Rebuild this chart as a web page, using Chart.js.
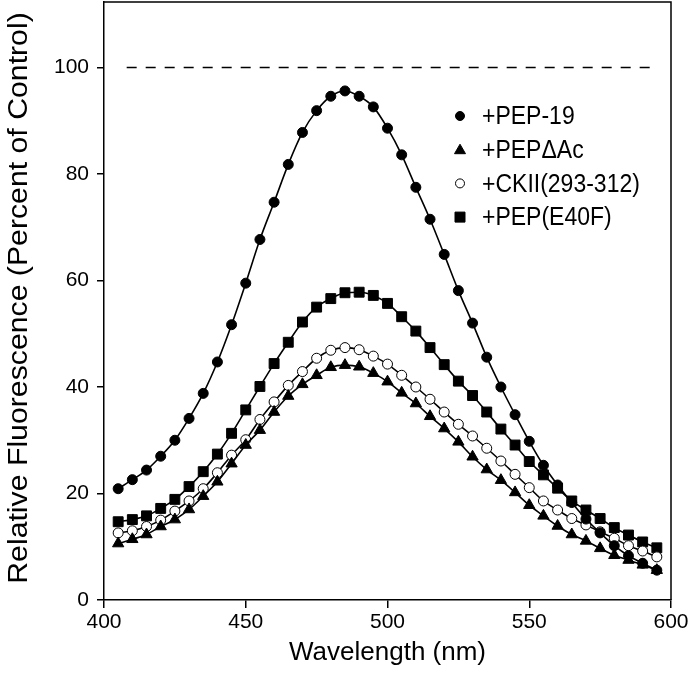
<!DOCTYPE html>
<html>
<head>
<meta charset="utf-8">
<script src="https://cdn.jsdelivr.net/npm/chart.js@4/dist/chart.umd.min.js"></script>
<style>
  html, body { margin: 0; padding: 0; background: #fff; overflow: hidden; }
  #wrap { width: 693px; height: 682px; overflow: hidden; }
  #chart { display: block; margin-top: -6px; }
</style>
</head>
<body>
<div id="wrap"><canvas id="chart" width="693" height="688"></canvas></div>
<script>
// wavelengths (nm)
const wavelengths = [405, 410, 415, 420, 425, 430, 435, 440, 445, 450,
  455, 460, 465, 470, 475, 480, 485, 490, 495, 500,
  505, 510, 515, 520, 525, 530, 535, 540, 545, 550,
  555, 560, 565, 570, 575, 580, 585, 590, 595];

// relative fluorescence, % of control
const pep19 = [20.9, 22.6, 24.4, 27.0, 30.0, 34.1, 38.8, 44.7, 51.7, 59.5,
  67.7, 74.7, 81.8, 87.8, 91.9, 94.6, 95.6, 94.6, 92.6, 88.6,
  83.6, 77.5, 71.5, 64.9, 58.1, 52.0, 45.6, 40.0, 34.8, 29.8,
  25.3, 21.6, 18.3, 15.2, 12.6, 10.2, 8.3, 6.9, 5.6];
const pepDAc = [10.6, 11.4, 12.3, 13.8, 15.1, 17.0, 19.5, 22.2, 25.6, 29.1,
  31.9, 35.3, 38.3, 40.5, 42.2, 43.7, 44.1, 43.8, 42.6, 41.0,
  38.9, 36.9, 34.5, 32.2, 29.7, 26.9, 24.5, 22.5, 20.2, 17.8,
  15.8, 13.9, 12.3, 11.1, 9.7, 8.4, 7.5, 6.6, 5.6];
const ckii = [12.6, 13.0, 13.8, 15.0, 16.7, 18.6, 20.9, 23.9, 27.2, 30.1,
  33.9, 37.2, 40.3, 42.9, 45.4, 46.9, 47.4, 47.0, 45.8, 44.3,
  42.2, 40.0, 37.7, 35.3, 33.0, 30.8, 28.5, 26.1, 23.6, 21.1,
  18.6, 16.9, 15.3, 14.1, 12.8, 11.6, 10.2, 9.2, 8.1];
const pepE40F = [14.7, 15.1, 15.8, 17.2, 18.9, 21.3, 24.1, 27.4, 31.3, 35.7,
  40.1, 44.4, 48.4, 52.2, 55.0, 56.6, 57.7, 57.8, 57.2, 55.7,
  53.2, 50.5, 47.4, 44.2, 41.1, 38.4, 35.3, 32.1, 29.1, 26.0,
  23.5, 21.0, 18.6, 16.9, 15.3, 13.6, 12.2, 10.9, 9.8];

// control level (dashed line)
const controlX = [408, 594];
const controlY = [100, 100];

const seriesNames = ['+PEP-19', '+PEP\u0394Ac', '+CKII(293-312)', '+PEP(E40F)'];
const xTicks = [400, 450, 500, 550, 600];
const yTicks = [0, 20, 40, 60, 80, 100];
const yTitle = 'Relative Fluorescence (Percent of Control)';

const FONT = "'Liberation Sans', Arial, Helvetica, sans-serif";

function pts(xs, ys) {
  return xs.map((x, i) => ({ x: x, y: ys[i] }));
}

const markers = [
  { pointStyle: 'circle', radius: 5, bg: '#000' },
  { pointStyle: 'triangle', radius: 6.5, bg: '#000' },
  { pointStyle: 'circle', radius: 5, bg: '#fff' },
  { pointStyle: 'rect', radius: 7, bg: '#000' }
];
const seriesData = [pep19, pepDAc, ckii, pepE40F];

const datasets = seriesData.map((vals, i) => ({
  label: seriesNames[i],
  data: pts(wavelengths, vals),
  borderColor: '#000',
  borderWidth: 1.6,
  cubicInterpolationMode: 'monotone',
  pointStyle: markers[i].pointStyle,
  pointRadius: markers[i].radius,
  pointBackgroundColor: markers[i].bg,
  pointBorderColor: '#000',
  pointBorderWidth: 1
}));

datasets.push({
  label: 'control',
  data: pts(controlX, controlY),
  borderColor: '#000',
  borderWidth: 1.5,
  borderDash: [10, 9],
  pointRadius: 0
});

// frame on top and right, y title and legend inside the plot
const framePlugin = {
  id: 'frame',
  afterDraw(chart) {
    const { ctx, chartArea: a } = chart;
    ctx.save();
    ctx.strokeStyle = '#000';
    ctx.lineWidth = 1.5;
    ctx.beginPath();
    ctx.moveTo(a.left, a.top);
    ctx.lineTo(a.right, a.top);
    ctx.lineTo(a.right, a.bottom);
    ctx.stroke();

    // y axis title, a bit stretched along its length like the original
    ctx.save();
    ctx.translate(20, (a.top + a.bottom) / 2 - 3);
    ctx.rotate(-Math.PI / 2);
    ctx.scale(1.12, 1);
    ctx.font = '27px ' + FONT;
    ctx.textAlign = 'center';
    ctx.textBaseline = 'middle';
    ctx.fillStyle = '#000';
    ctx.fillText(yTitle, 0, 0);
    ctx.restore();

    // legend
    const lx = 460, tx = 482, y0 = a.top + 114, dy = 33.7;
    ctx.textBaseline = 'middle';
    seriesNames.forEach((name, i) => {
      const y = y0 + i * dy;
      const m = markers[i];
      ctx.beginPath();
      ctx.fillStyle = m.bg;
      ctx.strokeStyle = '#000';
      ctx.lineWidth = 1;
      if (m.pointStyle === 'circle') {
        ctx.arc(lx, y, 4.5, 0, Math.PI * 2);
      } else if (m.pointStyle === 'triangle') {
        ctx.moveTo(lx, y - 5.5);
        ctx.lineTo(lx + 5.5, y + 4);
        ctx.lineTo(lx - 5.5, y + 4);
        ctx.closePath();
      } else {
        ctx.rect(lx - 5, y - 5, 10, 10);
      }
      ctx.fill();
      ctx.stroke();
      ctx.save();
      ctx.translate(tx, y + 1);
      ctx.scale(1, 1.12);
      ctx.font = '23px ' + FONT;
      ctx.fillStyle = '#000';
      ctx.fillText(name, 0, 0);
      ctx.restore();
    });
    ctx.restore();
  }
};

new Chart(document.getElementById('chart').getContext('2d'), {
  type: 'line',
  data: { datasets: datasets },
  options: {
    responsive: false,
    animation: false,
    layout: { padding: { top: 2, right: 22, left: 0, bottom: 0 } },
    plugins: { legend: { display: false }, tooltip: { enabled: false } },
    scales: {
      x: {
        type: 'linear',
        min: 400,
        max: 600,
        afterFit(scale) { scale.height = 82; scale.paddingLeft = 0; scale.paddingRight = 0; },
        afterBuildTicks(scale) { scale.ticks = xTicks.map(v => ({ value: v })); },
        border: { display: true, color: '#000', width: 1.5 },
        grid: { drawOnChartArea: false, drawTicks: true, tickLength: 8, color: '#000', lineWidth: 1.5 },
        ticks: { color: '#000', padding: 2, font: { family: FONT, size: 21 } },
        title: {
          display: true,
          text: 'Wavelength (nm)',
          color: '#000',
          font: { family: FONT, size: 26 },
          padding: { top: 0, bottom: 14 }
        }
      },
      y: {
        type: 'linear',
        min: 0,
        max: 112.3,
        afterFit(scale) { scale.width = 104; scale.paddingTop = 0; scale.paddingBottom = 0; },
        afterBuildTicks(scale) { scale.ticks = yTicks.map(v => ({ value: v })); },
        border: { display: true, color: '#000', width: 1.5 },
        grid: { drawOnChartArea: false, drawTicks: true, tickLength: 7, color: '#000', lineWidth: 1.5 },
        ticks: { color: '#000', padding: 8, font: { family: FONT, size: 21 } },
        title: { display: false }
      }
    }
  },
  plugins: [framePlugin]
});
</script>
</body>
</html>
